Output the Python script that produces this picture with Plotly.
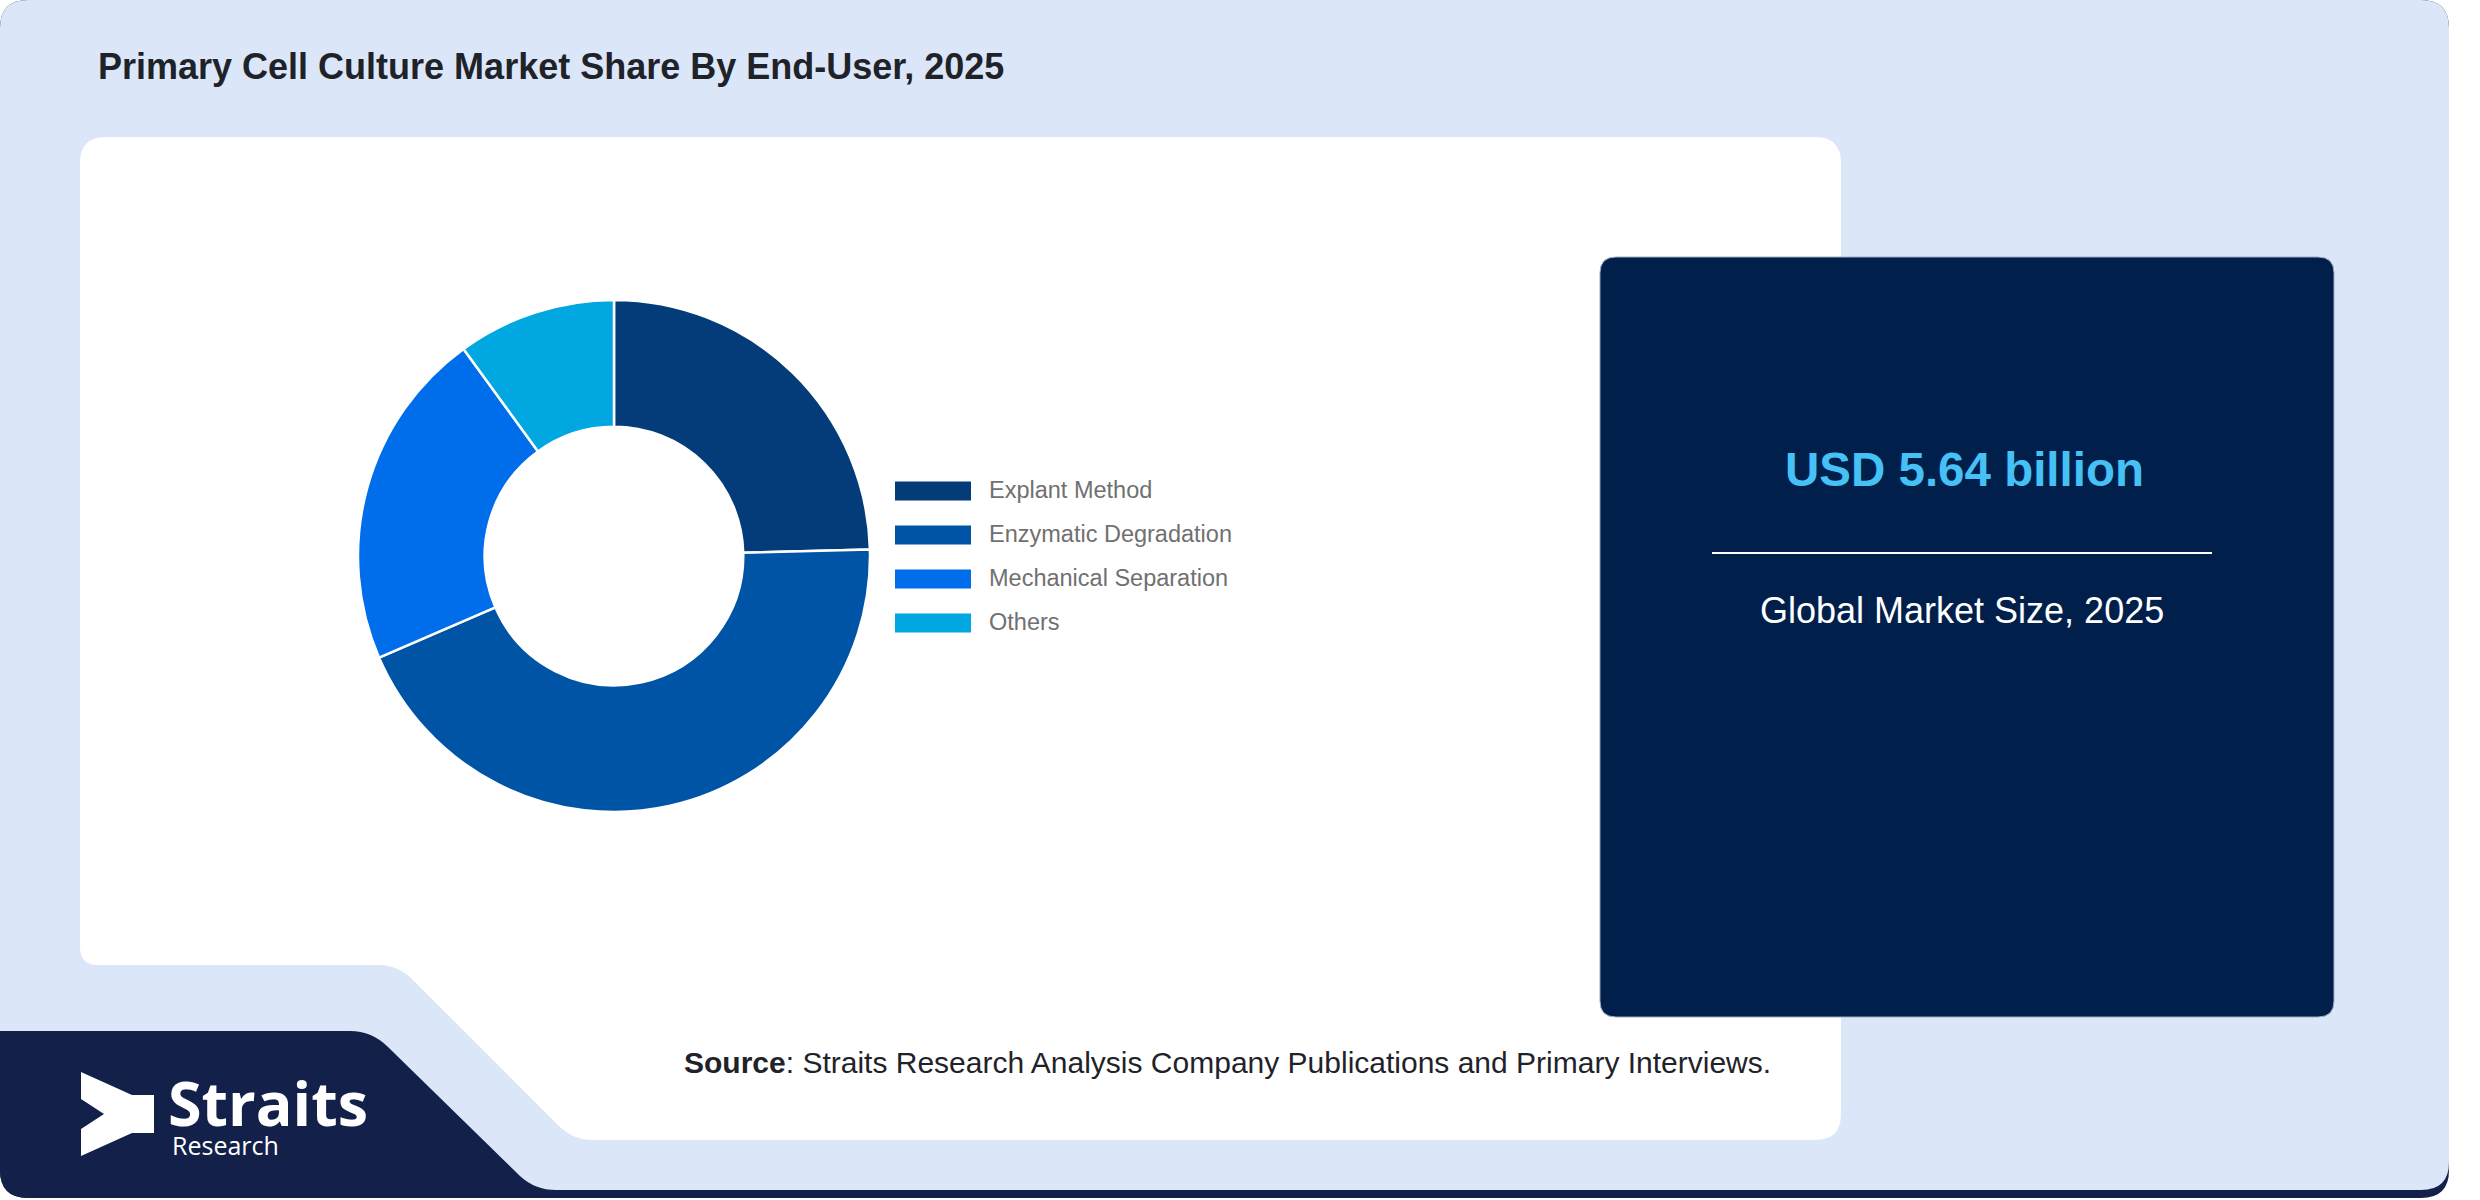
import plotly.graph_objects as go

W, H = 2480, 1200

# ---- data ----
segments = ["Explant Method", "Enzymatic Degradation", "Mechanical Separation", "Others"]
shares = [24.6, 43.9, 21.5, 10.0]
seg_colors = ["#033c79", "#0054a6", "#006eeb", "#00a7e1"]

title_text = "Primary Cell Culture Market Share By End-User, 2025"
market_value = "USD 5.64 billion"
market_label = "Global Market Size, 2025"
source_text = "<b>Source</b>: Straits Research Analysis Company Publications and Primary Interviews."
brand_name = "Straits"
brand_sub = "Research"


def px(x):
    return x / W


def py(y):
    return 1 - y / H


def path_from(cmds):
    out = []
    for c in cmds:
        op = c[0]
        nums = c[1:]
        pts = []
        for i in range(0, len(nums), 2):
            pts.append(f"{px(nums[i]):.6f},{py(nums[i+1]):.6f}")
        out.append(op + " " + " ".join(pts))
    return " ".join(out) + " Z"


def rrect(x0, y0, x1, y1, r):
    return path_from([
        ("M", x0 + r, y0), ("L", x1 - r, y0), ("Q", x1, y0, x1, y0 + r),
        ("L", x1, y1 - r), ("Q", x1, y1, x1 - r, y1),
        ("L", x0 + r, y1), ("Q", x0, y1, x0, y1 - r),
        ("L", x0, y0 + r), ("Q", x0, y0, x0 + r, y0),
    ])


shapes = []


def add_path(p, fill, line_color=None, line_width=0):
    shapes.append(dict(type="path", xref="paper", yref="paper", path=p,
                       fillcolor=fill, layer="below",
                       line=dict(color=line_color or fill, width=line_width)))


# page background with dark bottom edge
add_path(rrect(0, 0, 2449, 1198, 28), "#13204a")
add_path(rrect(0, 0, 2449, 1190, 28), "#dbe7f8")

# white panel with notch
white_panel = path_from([
    ("M", 106, 137), ("L", 1815, 137), ("Q", 1841, 137, 1841, 163),
    ("L", 1841, 1114), ("Q", 1841, 1140, 1815, 1140),
    ("L", 593, 1140), ("Q", 573, 1140, 559, 1126),
    ("L", 412, 979), ("Q", 398, 965, 378, 965),
    ("L", 98, 965), ("Q", 80, 965, 80, 947),
    ("L", 80, 163), ("Q", 80, 137, 106, 137),
])
add_path(white_panel, "#ffffff")

# logo panel
logo_panel = path_from([
    ("M", 0, 1031), ("L", 350, 1031), ("Q", 372, 1031, 388, 1047),
    ("L", 520, 1176), ("Q", 535, 1190, 556, 1190),
    ("L", 556, 1198), ("L", 28, 1198), ("Q", 0, 1198, 0, 1170),
])
add_path(logo_panel, "#13204a")

# logo arrow mark
arrow = path_from([
    ("M", 81, 1072), ("L", 132, 1095), ("L", 154, 1095), ("L", 154, 1133),
    ("L", 132, 1133), ("L", 81, 1156), ("L", 81, 1129), ("L", 104, 1114),
    ("L", 81, 1099),
])
add_path(arrow, "#ffffff")

# market size panel
add_path(rrect(1600, 257, 2334, 1017, 16), "#011f4b", "#9fabc0", 1)

# divider line
shapes.append(dict(type="line", xref="paper", yref="paper",
                   x0=px(1712), x1=px(2212), y0=py(553), y1=py(553),
                   line=dict(color="#ffffff", width=2), layer="above"))

annotations = []

# custom legend
leg_y0, leg_dy = 491, 44
for i, (name, col) in enumerate(zip(segments, seg_colors)):
    yc = leg_y0 + i * leg_dy
    shapes.append(dict(type="rect", xref="paper", yref="paper",
                       x0=px(895), x1=px(971), y0=py(yc - 9.5), y1=py(yc + 9.5),
                       fillcolor=col, line=dict(width=0), layer="above"))
    annotations.append(dict(x=px(987), y=py(yc - 1), xref="paper", yref="paper",
                            text=name, showarrow=False, xanchor="left", yanchor="middle",
                            font=dict(family="Liberation Sans, Arial", size=23.5, color="#707070")))

# texts
annotations += [
    dict(x=px(96), y=py(66), text=f"<b>{title_text}</b>", showarrow=False,
         xanchor="left", yanchor="middle",
         font=dict(family="Liberation Sans, Arial", size=36, color="#1f2329")),
    dict(x=px(1964), y=py(470), text=f"<b>{market_value}</b>", showarrow=False,
         xanchor="center", yanchor="middle",
         font=dict(family="Liberation Sans, Arial", size=47.5, color="#46c1f6")),
    dict(x=px(1962), y=py(610), text=market_label, showarrow=False,
         xanchor="center", yanchor="middle",
         font=dict(family="Liberation Sans, Arial", size=36, color="#ffffff")),
    dict(x=px(682), y=py(1062), text=source_text, showarrow=False,
         xanchor="left", yanchor="middle",
         font=dict(family="Liberation Sans, Arial", size=30, color="#1f2329")),
    dict(x=px(166), y=py(1102), text=f"<b>{brand_name}</b>", showarrow=False,
         xanchor="left", yanchor="middle",
         font=dict(family="Open Sans", size=61, color="#ffffff")),
    dict(x=px(170), y=py(1145), text=brand_sub, showarrow=False,
         xanchor="left", yanchor="middle",
         font=dict(family="Open Sans", size=25, color="#ffffff")),
]

cx, cy, r = 614, 556, 256
fig = go.Figure(go.Pie(
    labels=segments, values=shares, sort=False, direction="clockwise", rotation=0,
    hole=0.505, textinfo="none", hoverinfo="label+percent",
    marker=dict(colors=seg_colors, line=dict(color="#ffffff", width=2.5)),
    domain=dict(x=[px(cx - r), px(cx + r)], y=[py(cy + r), py(cy - r)]),
    showlegend=False,
))

fig.update_layout(
    width=W, height=H, margin=dict(l=0, r=0, t=0, b=0, pad=0),
    paper_bgcolor="#ffffff", plot_bgcolor="rgba(0,0,0,0)",
    shapes=shapes, annotations=annotations, showlegend=False,
)

fig.write_html("out.html", config={"displayModeBar": False},
               post_script="document.body.style.margin='0px';document.body.style.overflow='hidden';")
